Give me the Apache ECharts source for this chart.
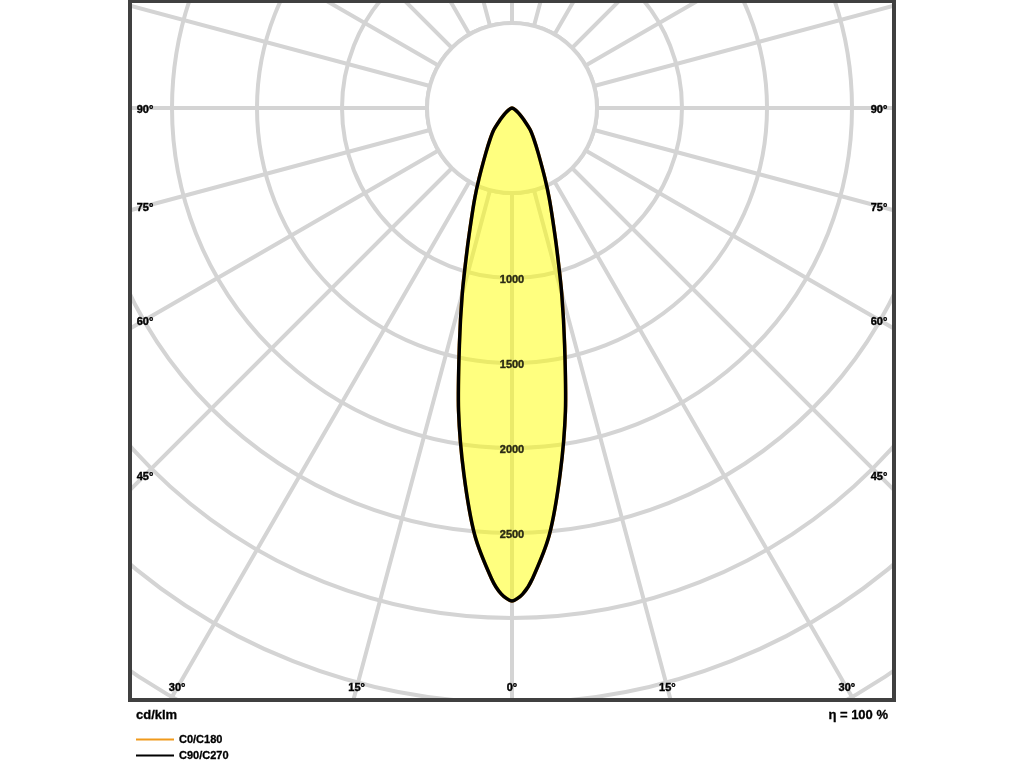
<!DOCTYPE html>
<html>
<head>
<meta charset="utf-8">
<script src="https://cdn.jsdelivr.net/npm/echarts@6/dist/echarts.min.js"></script>
<style>html,body{margin:0;padding:0;background:#fff;}#c{width:1024px;height:768px;}</style>
</head>
<body>
<div id="c"></div>
<script>
// ---- data ----
const gammaAngles = [0, 1.25, 2.5, 5, 7.5, 10, 12.5, 15, 17.5, 20, 22.5, 25, 30, 35, 40, 45, 50, 55, 60, 70, 80, 90];
const c0c180  = [2900, 2860, 2770, 2520, 2170, 1810, 1430, 1130, 880, 700, 570, 460, 310, 225, 165, 100, 62, 38, 22, 8, 2, 0];
const c90c270 = [2900, 2860, 2770, 2520, 2170, 1810, 1430, 1130, 880, 700, 570, 460, 310, 225, 165, 100, 62, 38, 22, 8, 2, 0];
const ringLabels = [1000, 1500, 2000, 2500];
const angleTicks = [0, 15, 30, 45, 60, 75, 90];
const seriesNames = ['C0/C180', 'C90/C270'];
const seriesColors = ['#f09a1c', '#000000'];
const unitLabel = 'cd/klm';
const efficiencyLabel = 'η = 100 %';

const FONT = '"Liberation Sans", Arial, Helvetica, sans-serif';
const GRID = '#d4d4d4';

function loop(vals) {
  const pts = [];
  gammaAngles.forEach((g, i) => pts.push([vals[i], g]));
  for (let i = gammaAngles.length - 2; i > 0; i--) pts.push([vals[i], 360 - gammaAngles[i]]);
  return pts;
}

function curveSeries(name, vals, stroke, fill, z) {
  return {
    name: name,
    type: 'custom',
    coordinateSystem: 'polar',
    z: z,
    silent: true,
    itemStyle: { color: stroke },
    data: [[0, 0]],
    renderItem: function (params, api) {
      const pts = loop(vals).map(p => api.coord(p));
      return {
        type: 'polygon',
        shape: { points: pts, smooth: 0.25 },
        style: { fill: fill, stroke: stroke, lineWidth: 3.5, lineJoin: 'round' }
      };
    }
  };
}

const chart = echarts.init(document.getElementById('c'), null, { renderer: 'canvas' });

const baseGraphic = [
  { type: 'circle', z: 1, shape: { cx: 512, cy: 108, r: 85 }, style: { fill: '#fff', stroke: GRID, lineWidth: 4 } }
];

chart.setOption({
  animation: false,
  backgroundColor: '#fff',
  polar: { center: [512, 108], radius: 765 },
  radiusAxis: {
    z: 0, min: 0, max: 4500, interval: 500,
    axisLine: { show: false }, axisTick: { show: false }, axisLabel: { show: false },
    splitLine: { show: true, lineStyle: { color: GRID, width: 4 } }
  },
  angleAxis: {
    z: 0, type: 'value', min: 0, max: 360, interval: 15, startAngle: 270, clockwise: true,
    axisLine: { show: false }, axisTick: { show: false }, axisLabel: { show: false },
    splitLine: { show: true, lineStyle: { color: GRID, width: 4 } }
  },
  legend: {
    z: 20, orient: 'vertical', left: 136, top: 733, padding: 0, icon: 'rect', itemWidth: 38, itemHeight: 2,
    itemGap: 3, selectedMode: false,
    data: seriesNames.map((n, i) => ({ name: n, icon: 'rect', itemStyle: { color: seriesColors[i], borderWidth: 0, opacity: 1 } })),
    textStyle: { fontFamily: FONT, fontSize: 11, fontWeight: 'bold', color: '#000', lineHeight: 13,
      textBorderColor: '#000', textBorderWidth: 0.3 }
  },
  series: [
    curveSeries(seriesNames[0], c0c180, seriesColors[0], 'none', 2),
    curveSeries(seriesNames[1], c90c270, seriesColors[1], 'rgba(255,255,0,0.5)', 3),
    {
      type: 'scatter', coordinateSystem: 'polar', z: 6, silent: true,
      symbolSize: 0, itemStyle: { color: '#000' },
      data: ringLabels.map(v => [v, 0]),
      label: {
        show: true, position: 'inside', offset: [0, 2],
        formatter: p => String(p.value[0]),
        fontFamily: FONT, fontSize: 11, fontWeight: 'bold', color: '#000',
        textBorderColor: '#000', textBorderWidth: 0.4
      }
    }
  ],
  graphic: baseGraphic
});

// tick labels along the frame, placed where each radial line meets the label band
const C = chart.convertToPixel({ seriesIndex: 0 }, [0, 0]);
const texts = [];
angleTicks.forEach(t => {
  const sides = t === 0 ? [1] : [1, -1];
  sides.forEach(s => {
    const P = chart.convertToPixel({ seriesIndex: 0 }, [1000, (360 + s * t) % 360]);
    const dx = P[0] - C[0], dy = P[1] - C[1];
    let x, y;
    if (t <= 30) { y = 688; x = C[0] + dx * (y - C[1]) / dy; }
    else { x = dx < 0 ? 145 : 879; y = C[1] + dy * (x - C[0]) / dx + 2; }
    texts.push({
      type: 'text', z: 12, x: x, y: y,
      style: { text: t + '°', font: 'bold 11px ' + FONT, fill: '#000', stroke: '#000', lineWidth: 0.4,
        align: 'center', verticalAlign: 'middle', textAlign: 'center', textVerticalAlign: 'middle' }
    });
  });
});

const frameGraphic = [
  { type: 'rect', z: 10, shape: { x: 0, y: 0, width: 128, height: 768 }, style: { fill: '#fff' } },
  { type: 'rect', z: 10, shape: { x: 896, y: 0, width: 128, height: 768 }, style: { fill: '#fff' } },
  { type: 'rect', z: 10, shape: { x: 0, y: 702, width: 1024, height: 66 }, style: { fill: '#fff' } },
  { type: 'rect', z: 11, shape: { x: 130, y: 1, width: 764, height: 699 }, style: { fill: 'none', stroke: '#404040', lineWidth: 4 } },
  { type: 'text', z: 12, x: 136, y: 715, style: { text: unitLabel, font: 'bold 13px ' + FONT, fill: '#000', stroke: '#000', lineWidth: 0.3,
      align: 'left', verticalAlign: 'middle', textAlign: 'left', textVerticalAlign: 'middle' } },
  { type: 'text', z: 12, x: 888, y: 715, style: { text: efficiencyLabel, font: 'bold 13px ' + FONT, fill: '#000', stroke: '#000', lineWidth: 0.3,
      align: 'right', verticalAlign: 'middle', textAlign: 'right', textVerticalAlign: 'middle' } }
];

chart.setOption({ graphic: baseGraphic.concat(frameGraphic, texts) });
</script>
</body>
</html>
